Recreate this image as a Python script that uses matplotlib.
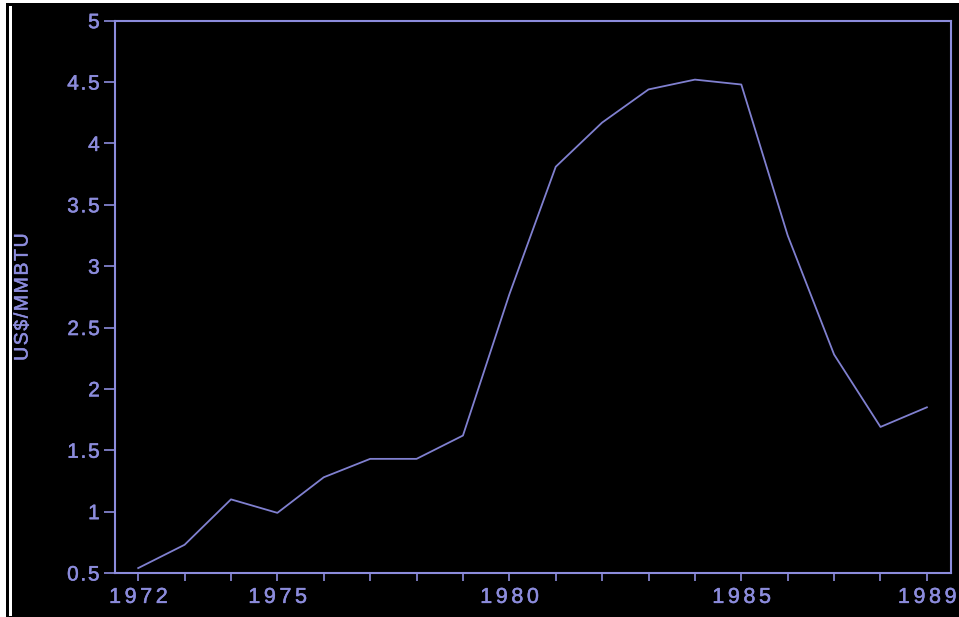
import matplotlib
matplotlib.use("Agg")
import matplotlib.pyplot as plt
import matplotlib.patheffects as pe
from matplotlib.patches import Rectangle
from matplotlib.ticker import FixedLocator

years = [1972, 1973, 1974, 1975, 1976, 1977, 1978, 1979, 1980,
         1981, 1982, 1983, 1984, 1985, 1986, 1987, 1988, 1989]
price = [0.54, 0.73, 1.10, 0.99, 1.28, 1.43, 1.43, 1.62, 2.77,
         3.81, 4.17, 4.44, 4.52, 4.48, 3.25, 2.28, 1.69, 1.85]
xtick_labels = [1972, 1975, 1980, 1985, 1989]
yticks = [0.5, 1, 1.5, 2, 2.5, 3, 3.5, 4, 4.5, 5]
ylabel = "US$/MMBTU"

W, H = 959, 617
fg = "#8c8cdc"
line_c = "#8080d0"
SEP = "\u200a"
stroke = [pe.withStroke(linewidth=0.35, foreground=fg)]


def spaced(s, sep):
    return sep.join(list(s))


plt.rcParams['font.family'] = ['Liberation Sans', 'DejaVu Sans']

fig = plt.figure(figsize=(W / 100, H / 100), dpi=100, facecolor="white")
# black panel and white edge bar
fig.patches.append(Rectangle((6 / W, 0), 1, 1 - 3 / H, transform=fig.transFigure,
                             facecolor="black", edgecolor="none", zorder=-5))
fig.patches.append(Rectangle((9 / W, 1 / H), 3 / W, 1 - 7 / H, transform=fig.transFigure,
                             facecolor="white", edgecolor="none", zorder=-4))

left, right = 115 / W, 951 / W
bottom, top = (H - 573) / H, (H - 20.7) / H
ax = fig.add_axes([left, bottom, right - left, top - bottom])
ax.set_facecolor("black")
ax.set_zorder(2)

ax.plot(years, price, color=line_c, lw=1.3)

ax.set_xlim(1971.5, 1989.52)
ax.set_ylim(0.5, 5)
ax.xaxis.set_major_locator(FixedLocator(years))
ax.set_xticklabels([spaced(str(y), SEP + SEP) if y in xtick_labels else "" for y in years])
ax.set_yticks(yticks)
ax.set_yticklabels([spaced(f"{v:g}", SEP) for v in yticks])

for s in ax.spines.values():
    s.set_color(fg)
    s.set_linewidth(1.5)

ax.tick_params(axis="y", colors=fg, labelsize=15, length=8, width=1.2, pad=3, direction="out")
ax.tick_params(axis="x", colors=fg, labelsize=15.5, length=6, width=1.2, pad=4, direction="out")
for lab in ax.get_xticklabels() + ax.get_yticklabels():
    lab.set_path_effects(stroke)

fig.text(23 / W, 1 - 297 / H, spaced(ylabel, SEP), rotation=90, color=fg, fontsize=14,
         ha="center", va="center", zorder=3, path_effects=stroke)

fig.savefig("out.png", dpi=100, facecolor=fig.get_facecolor())
